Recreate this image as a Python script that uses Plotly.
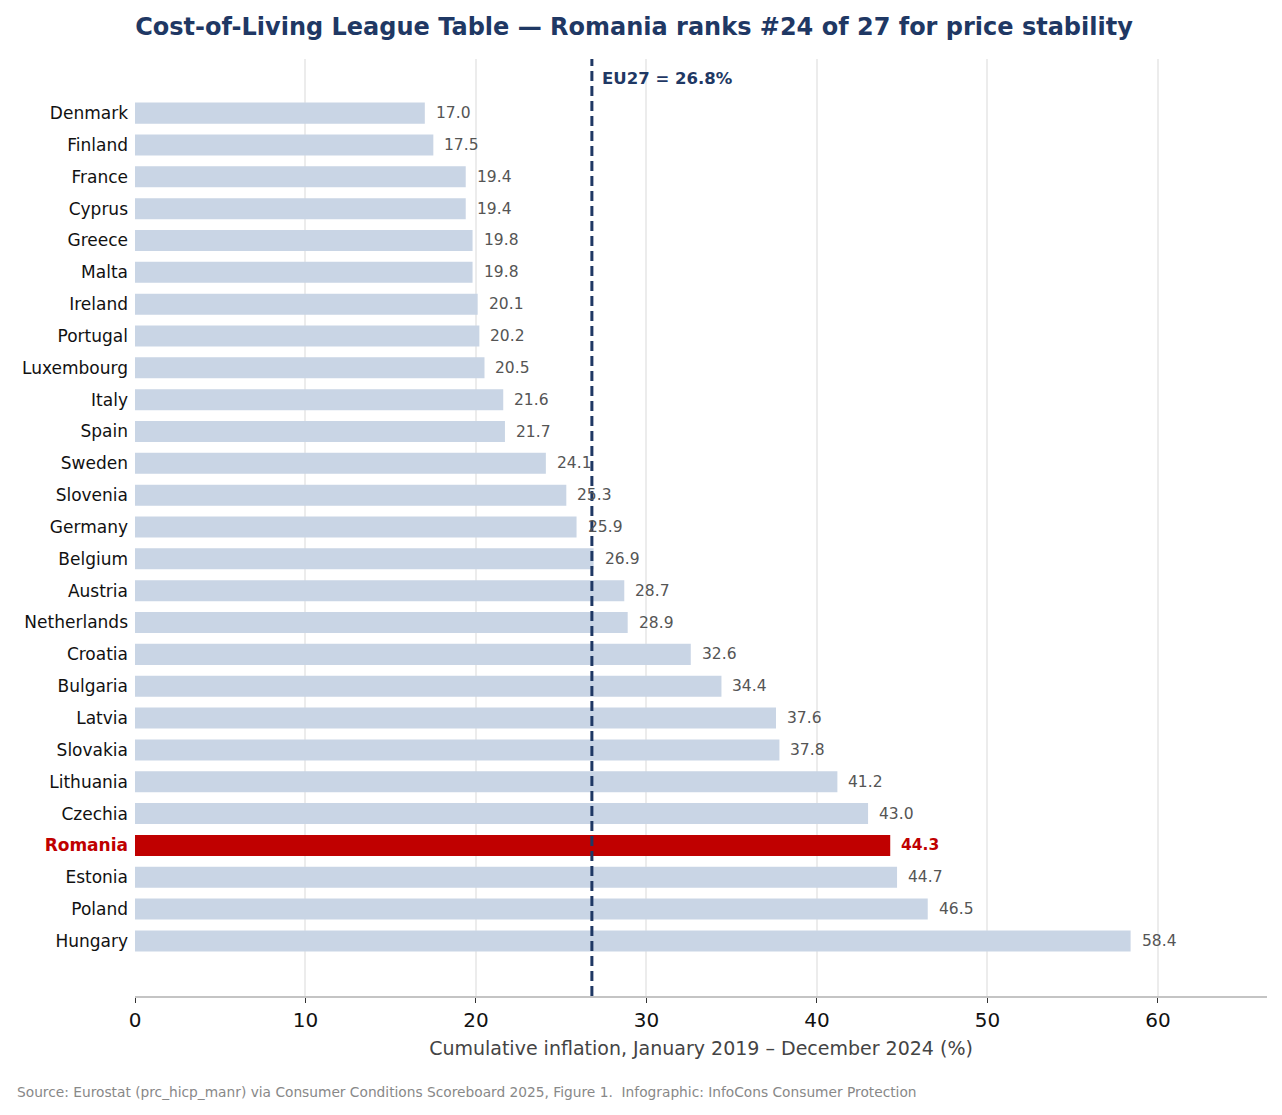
import plotly.graph_objects as go

countries = ["Denmark", "Finland", "France", "Cyprus", "Greece", "Malta", "Ireland",
             "Portugal", "Luxembourg", "Italy", "Spain", "Sweden", "Slovenia", "Germany",
             "Belgium", "Austria", "Netherlands", "Croatia", "Bulgaria", "Latvia",
             "Slovakia", "Lithuania", "Czechia", "Romania", "Estonia", "Poland", "Hungary"]
inflation = [17.0, 17.5, 19.4, 19.4, 19.8, 19.8, 20.1, 20.2, 20.5, 21.6, 21.7, 24.1,
             25.3, 25.9, 26.9, 28.7, 28.9, 32.6, 34.4, 37.6, 37.8, 41.2, 43.0, 44.3,
             44.7, 46.5, 58.4]
eu27 = 26.8
highlight = "Romania"

NAVY = "#1f3864"
RED = "#c00000"
BAR = "#c9d5e5"
FONT = "DejaVu Sans"

pos = list(range(len(countries)))
colors = [RED if c == highlight else BAR for c in countries]
ticktext = [f"<b><span style='color:{RED}'>{c}</span></b>" if c == highlight else c
            for c in countries]

fig = go.Figure()
fig.add_trace(go.Bar(
    x=inflation, y=pos, orientation="h", width=0.66,
    marker=dict(color=colors, line=dict(width=0)),
    hoverinfo="skip", showlegend=False,
))

# value labels
for p, c, v in zip(pos, countries, inflation):
    hi = c == highlight
    fig.add_annotation(
        x=v, y=p, xref="x", yref="y", text=f"<b>{v:.1f}</b>" if hi else f"{v:.1f}",
        showarrow=False, xanchor="left", xshift=9,
        font=dict(family=FONT, size=15.5, color=RED if hi else "#555555"),
    )

# EU27 reference line
fig.add_shape(type="line", x0=eu27, x1=eu27, xref="x", y0=0, y1=1, yref="paper",
              line=dict(color=NAVY, width=3, dash="10px,5px"), layer="above")
fig.add_annotation(x=eu27, y=-1.1, xref="x", yref="y", text=f"<b>EU27 = {eu27}%</b>",
                   showarrow=False, xanchor="left", xshift=8,
                   font=dict(family=FONT, size=16.5, color=NAVY))

fig.add_annotation(xref="paper", yref="paper", xanchor="left", yanchor="middle",
                   x=-0.106, y=-0.1025,
                   text="Source: Eurostat (prc_hicp_manr) via Consumer Conditions Scoreboard 2025, Figure 1.  Infographic: InfoCons Consumer Protection",
                   showarrow=False, font=dict(family=FONT, size=13.75, color="#888888"))

fig.update_layout(
    width=1266, height=1099,
    paper_bgcolor="white", plot_bgcolor="white",
    margin=dict(l=127, r=7, t=51, b=111),
    title=dict(text="<b>Cost-of-Living League Table — Romania ranks #24 of 27 for price stability</b>",
               x=0.4945, xanchor="center", y=0.9827, yanchor="middle",
               font=dict(family=FONT, size=24, color=NAVY)),
    font=dict(family=FONT),
    xaxis=dict(range=[0, 66.4], tickvals=[0, 10, 20, 30, 40, 50, 60],
               showgrid=True, gridcolor="#ececec", gridwidth=1.5,
               showline=True, linecolor="#c4c4c4", linewidth=2,
               ticks="outside", ticklen=5, tickcolor="#333333",
               tickfont=dict(family=FONT, size=20, color="#111111"),
               title=dict(text="Cumulative inflation, January 2019 – December 2024 (%)",
                          font=dict(family=FONT, size=19, color="#444444"), standoff=11),
               zeroline=False),
    yaxis=dict(range=[27.73, -1.7], tickvals=pos, ticktext=ticktext,
               showgrid=False, zeroline=False, ticks="", showline=False,
               tickfont=dict(family=FONT, size=17, color="#111111"), ticklabelstandoff=6),
)

fig.write_html("out.html")
